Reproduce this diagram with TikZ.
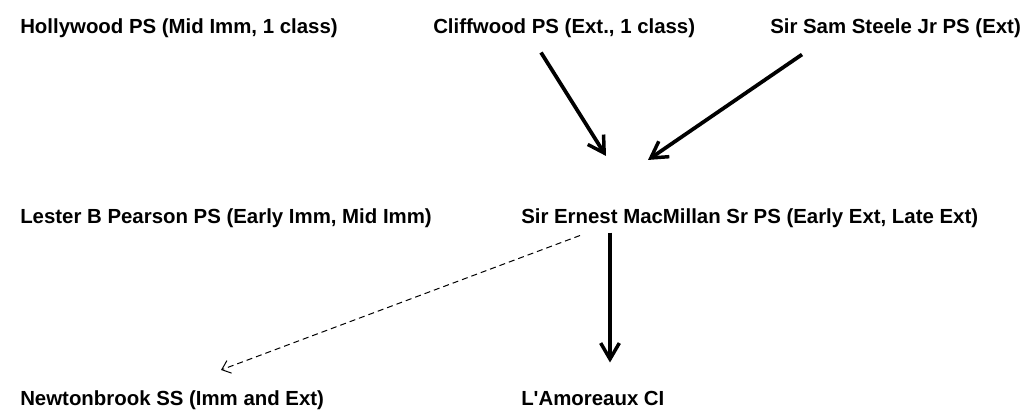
\documentclass[tikz,border=0pt]{standalone}
\usepackage{fontspec}
\setmainfont{Liberation Sans}
\usetikzlibrary{arrows.meta, calc}

\begin{document}
\begin{tikzpicture}[x=0.75pt, y=-0.75pt,
    school/.style={anchor=base west, inner sep=0pt, font=\fontsize{15.3}{18}\selectfont\bfseries},
    feeds/.style={line width=2.8pt, -{Straight Barb[length=12pt, width=14pt, line width=2.6pt]}},
    maybe/.style={line width=0.75pt, dash pattern=on 4.5pt off 3pt, -{Straight Barb[length=6pt, width=10pt, line width=0.75pt]}}]
    \useasboundingbox (0,0) rectangle (1029,410);
    %
    \node[school] (holly) at (20,34) {Hollywood PS (Mid Imm, 1 class)};
    \node[school] (cliff) at (433,34) {Cliffwood PS (Ext., 1 class)};
    \node[school] (steele) at (770,34) {Sir Sam Steele Jr PS (Ext)};
    %
    \node[school] (lester) at (20,223) {Lester B Pearson PS (Early Imm, Mid Imm)};
    \node[school] (ernest) at (521,223) {Sir Ernest MacMillan Sr PS (Early Ext, Late Ext)};
    %
    \node[school] (newton) at (20,405) {Newtonbrook SS (Imm and Ext)};
    \node[school] (amor) at (521,405) {L\textquotesingle Amoreaux CI};
    %
    \draw[feeds] ($(cliff.south west)+(108,14)$) -- ($(ernest.north west)+(85,-52)$);
    \draw[feeds] ($(steele.south west)+(32,16)$) -- ($(ernest.north west)+(127,-48)$);
    \draw[feeds] ($(ernest.south west)+(89,5)$) -- ($(amor.north west)+(89,-28)$);
    %
    \draw[maybe] ($(ernest.south west)+(59,8)$) -- ($(newton.north west)+(201,-20)$);
\end{tikzpicture}
\end{document}
